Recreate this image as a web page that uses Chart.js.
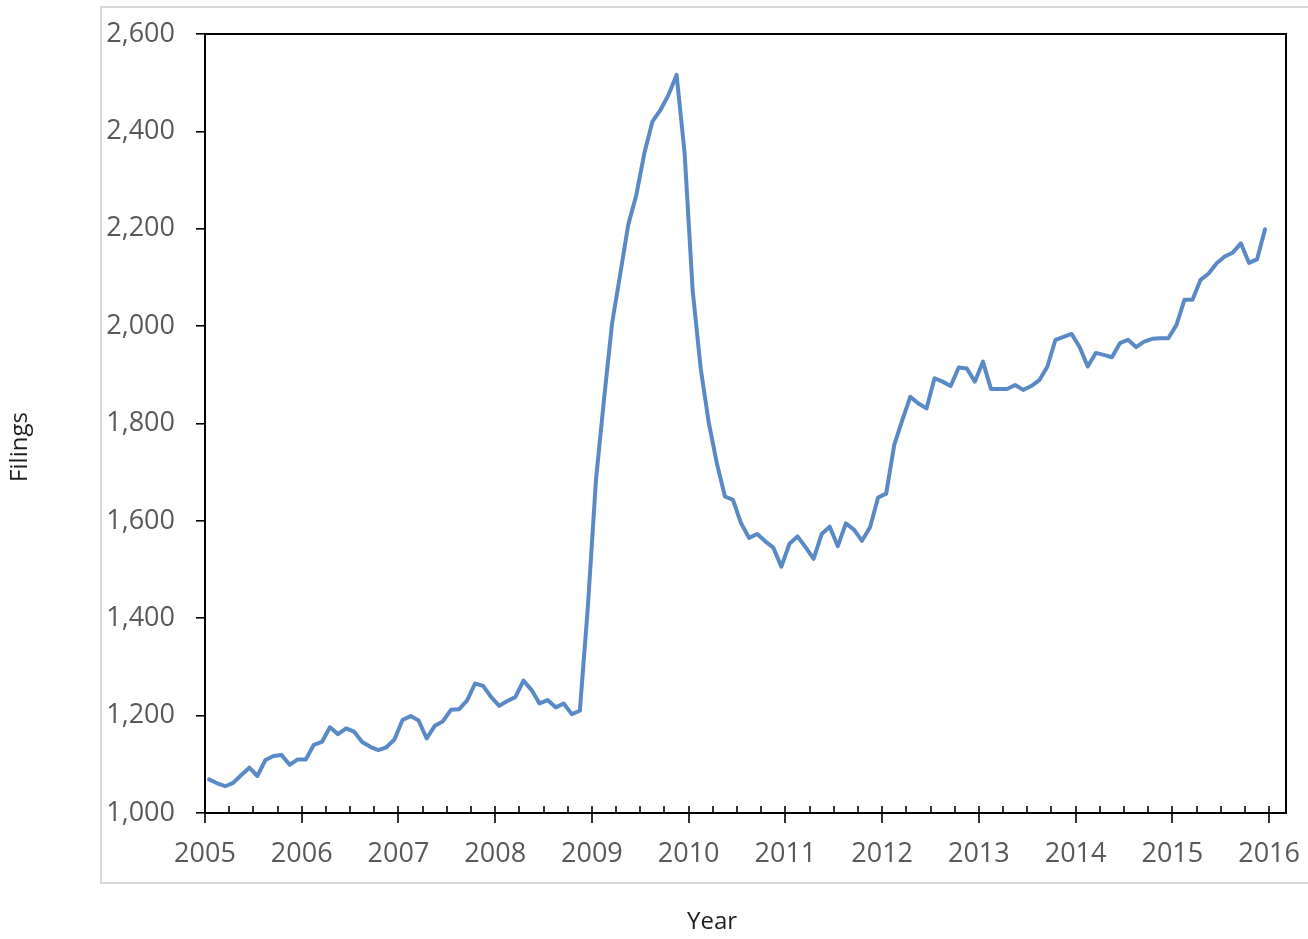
<!DOCTYPE html>
<html>
<head>
<meta charset="utf-8">
<title>Filings by month, 2005–2015</title>
<script src="https://cdn.jsdelivr.net/npm/chart.js@4"></script>
<style>
  html, body { margin: 0; padding: 0; background: #ffffff; }
  canvas { display: block; }
</style>
</head>
<body>
<canvas id="chart" width="1308" height="939"></canvas>
<script>
// Monthly filings, January to December of each year
const filings2005 = [1069, 1061, 1055, 1062, 1078, 1093, 1076, 1109, 1117, 1119, 1099, 1110];
const filings2006 = [1110, 1140, 1146, 1176, 1162, 1174, 1167, 1146, 1136, 1129, 1135, 1151];
const filings2007 = [1191, 1199, 1190, 1153, 1179, 1188, 1212, 1213, 1231, 1266, 1261, 1238];
const filings2008 = [1220, 1230, 1238, 1272, 1253, 1225, 1232, 1217, 1225, 1203, 1210, 1425];
const filings2009 = [1684, 1850, 2006, 2106, 2208, 2269, 2355, 2420, 2444, 2475, 2516, 2355];
const filings2010 = [2072, 1912, 1801, 1718, 1650, 1643, 1595, 1565, 1573, 1558, 1545, 1506];
const filings2011 = [1553, 1568, 1546, 1522, 1573, 1588, 1548, 1595, 1582, 1559, 1587, 1648];
const filings2012 = [1656, 1756, 1807, 1855, 1841, 1831, 1893, 1886, 1877, 1915, 1913, 1886];
const filings2013 = [1927, 1871, 1871, 1871, 1879, 1869, 1877, 1889, 1917, 1972, 1978, 1984];
const filings2014 = [1957, 1917, 1945, 1941, 1936, 1965, 1972, 1957, 1968, 1974, 1975, 1975];
const filings2015 = [2002, 2054, 2054, 2095, 2108, 2129, 2143, 2151, 2170, 2130, 2137, 2199];

const years = [2005, 2006, 2007, 2008, 2009, 2010, 2011, 2012, 2013, 2014, 2015];
const yearTicks = [2005, 2006, 2007, 2008, 2009, 2010, 2011, 2012, 2013, 2014, 2015, 2016];
const filingTicks = [1000, 1200, 1400, 1600, 1800, 2000, 2200, 2400, 2600];

const xTitle = 'Year';
const yTitle = 'Filings';

// Each month sits at its middle on a continuous year axis
const monthly = [filings2005, filings2006, filings2007, filings2008, filings2009, filings2010,
                 filings2011, filings2012, filings2013, filings2014, filings2015];
const points = [];
years.forEach((year, i) => {
  monthly[i].forEach((v, m) => points.push({ x: year + (m + 0.5) / 12, y: v }));
});

const FONT = '"Open Sans", "Liberation Sans", sans-serif';
const TICK_COLOR = '#595959';
const AXIS_COLOR = '#000000';

// Outer frame, plot box, quarter/year tick marks and the axis titles
const decorations = {
  id: 'decorations',
  beforeDraw(chart) {
    const ctx = chart.ctx;
    ctx.save();
    ctx.strokeStyle = '#d9d9d9';
    ctx.lineWidth = 2;
    ctx.strokeRect(101, 7, 1240, 876);
    ctx.restore();
  },
  afterDraw(chart) {
    const ctx = chart.ctx;
    const area = chart.chartArea;
    const xs = chart.scales.x;
    ctx.save();
    ctx.strokeStyle = AXIS_COLOR;
    ctx.lineWidth = 2;
    ctx.beginPath();
    ctx.moveTo(area.left, area.top);
    ctx.lineTo(area.right, area.top);
    ctx.lineTo(area.right, area.bottom);
    ctx.stroke();

    ctx.lineWidth = 1.6;
    ctx.beginPath();
    yearTicks.forEach(y => {
      const px = Math.round(xs.getPixelForValue(y));
      ctx.moveTo(px, area.bottom - 7);
      ctx.lineTo(px, area.bottom + 10);
    });
    years.forEach(y => {
      [0.25, 0.5, 0.75].forEach(q => {
        const px = Math.round(xs.getPixelForValue(y + q));
        ctx.moveTo(px, area.bottom - 7);
        ctx.lineTo(px, area.bottom);
      });
    });
    ctx.stroke();

    ctx.fillStyle = '#1f1f1f';
    ctx.font = '24px ' + FONT;
    ctx.textAlign = 'center';
    ctx.textBaseline = 'middle';
    ctx.fillText(xTitle, 712, 922);
    ctx.translate(20, 447);
    ctx.rotate(-Math.PI / 2);
    ctx.fillText(yTitle, 0, 0);
    ctx.restore();
  }
};

new Chart(document.getElementById('chart'), {
  type: 'line',
  data: {
    datasets: [{
      label: yTitle,
      data: points,
      borderColor: '#5a8ac6',
      borderWidth: 4,
      pointRadius: 0,
      tension: 0,
      borderJoinStyle: 'round',
      borderCapStyle: 'round',
      fill: false
    }]
  },
  options: {
    responsive: false,
    animation: false,
    devicePixelRatio: 1,
    layout: { padding: { top: 34, right: 22, left: 0, bottom: 0 } },
    plugins: {
      legend: { display: false },
      tooltip: { enabled: false }
    },
    scales: {
      x: {
        type: 'linear',
        min: 2005,
        max: 2016.175,
        afterBuildTicks: s => { s.ticks = yearTicks.map(v => ({ value: v })); },
        afterFit: s => { s.height = 126; s.paddingLeft = 0; s.paddingRight = 0; },
        ticks: {
          callback: v => String(v),
          font: { family: FONT, size: 27 },
          color: TICK_COLOR,
          padding: 25,
          maxRotation: 0,
          autoSkip: false
        },
        grid: { display: false, drawTicks: false },
        border: { display: true, color: AXIS_COLOR, width: 2 }
      },
      y: {
        type: 'linear',
        min: 1000,
        max: 2600,
        afterBuildTicks: s => { s.ticks = filingTicks.map(v => ({ value: v })); },
        afterFit: s => { s.width = 205; s.paddingTop = 0; s.paddingBottom = 0; },
        ticks: {
          callback: v => v.toLocaleString('en-US'),
          font: { family: FONT, size: 27 },
          color: TICK_COLOR,
          padding: 21
        },
        grid: { drawOnChartArea: false, drawTicks: true, tickLength: 9, color: AXIS_COLOR, lineWidth: 1.6 },
        border: { display: true, color: AXIS_COLOR, width: 2 }
      }
    }
  },
  plugins: [decorations]
});
</script>
</body>
</html>
